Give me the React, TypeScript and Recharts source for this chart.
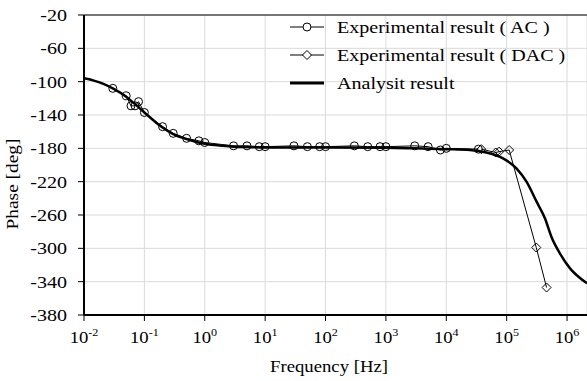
import { ComposedChart, Line, XAxis, YAxis, CartesianGrid, ReferenceLine } from "recharts";

// measured AC data
const acFreq = [0.03, 0.05, 0.06, 0.07, 0.08, 0.1, 0.2, 0.3, 0.5, 0.8, 1, 3, 5, 8, 10, 30, 50, 80, 100, 300, 500, 800, 1000, 3000, 5000, 8000, 10000, 34000];
const acPhase = [-108, -117, -129, -129, -124, -137, -154, -162, -168, -171, -173, -177, -177, -178, -178, -177, -178, -178, -178, -177, -178, -178, -178, -177, -178, -182, -180, -181];

// measured DAC data
const dacFreq = [38000, 66000, 75000, 110000, 309000, 458000];
const dacPhase = [-181, -185, -184, -182, -299, -347];

// analytic curve
const anFreq = [0.01, 0.015, 0.02, 0.03, 0.05, 0.07, 0.1, 0.15, 0.2, 0.3, 0.5, 0.7, 1, 2, 3, 5, 10, 100, 1000, 3000, 10000, 24500, 46000, 87000, 145000, 213000, 313000, 430000, 550000, 760000, 1120000, 1600000, 2140000];
const anPhase = [-96, -99, -102, -108, -118, -127, -137, -148, -155, -163, -169, -172, -174.5, -177, -178, -178.5, -179, -179, -179.3, -180, -181, -182, -185, -192, -204, -220, -244, -264, -286, -306, -324, -335, -342];

const xTicks = [0.01, 0.1, 1, 10, 100, 1000, 10000, 100000, 1000000];
const yTicks = [-380, -340, -300, -260, -220, -180, -140, -100, -60, -20];
const legendLabels = ["Experimental result ( AC )", "Experimental result ( DAC )", "Analysit result"];

const FONT = "'Liberation Serif', 'Times New Roman', serif";
const SX = 1.18;

const zip = (xs: number[], ys: number[]) => xs.map((x, i) => ({ x, y: ys[i] }));
const acData = zip(acFreq, acPhase);
const dacData = zip(dacFreq, dacPhase);
const anData = zip(anFreq, anPhase);

const YTick = ({ x, y, payload }: any) => (
  <g transform={`translate(${x},${y})`}>
    <text dy={6} textAnchor="end" transform={`scale(${SX},1)`} fontSize={17} fontFamily={FONT} fill="#000">
      {payload.value}
    </text>
  </g>
);

const XTick = ({ x, y, payload }: any) => (
  <g transform={`translate(${x},${y})`}>
    <text dy={22} textAnchor="middle" transform="scale(1.1,1)" fontSize={17} fontFamily={FONT} fill="#000">
      10<tspan dy={-7} fontSize={11}>{Math.round(Math.log10(payload.value))}</tspan>
    </text>
  </g>
);

const Diamond = (p: any) => {
  const { cx, cy } = p;
  if (cx == null || cy == null) return <g key={p.index} />;
  return (
    <path key={p.index} d={`M${cx},${cy - 4.5}L${cx + 4.5},${cy}L${cx},${cy + 4.5}L${cx - 4.5},${cy}Z`}
      fill="none" stroke="#000" strokeWidth={1} />
  );
};

export default function App() {
  const rows = [27, 55, 83];
  return (
    <div style={{ position: "absolute", left: 0, top: 0, width: 587, height: 381, background: "#fff", fontFamily: FONT }}>
      <ComposedChart width={587} height={381} margin={{ top: 15, right: 0, left: 0, bottom: 0 }}>
        <CartesianGrid stroke="#dadada" strokeWidth={1} />
        <XAxis dataKey="x" type="number" scale="log" domain={[0.01, 2140000]} ticks={xTicks} interval={0}
          allowDataOverflow height={66} tick={<XTick />} tickSize={6} tickMargin={0}
          axisLine={{ stroke: "#000", strokeWidth: 2 }} tickLine={{ stroke: "#000" }} />
        <YAxis type="number" domain={[-380, -20]} ticks={yTicks} interval={0} width={84} allowDataOverflow
          tick={<YTick />} tickSize={6} tickMargin={11}
          axisLine={{ stroke: "#000", strokeWidth: 2 }} tickLine={{ stroke: "#000" }} />
        <ReferenceLine y={-20} stroke="#000" strokeWidth={1} />
        <Line data={anData} dataKey="y" type="monotone" stroke="#000" strokeWidth={2.5} dot={false} isAnimationActive={false} />
        <Line data={acData} dataKey="y" type="linear" stroke="#000" strokeWidth={1}
          dot={{ r: 4, stroke: "#000", strokeWidth: 1, fill: "none" }} isAnimationActive={false} />
        <Line data={dacData} dataKey="y" type="linear" stroke="#000" strokeWidth={1} dot={Diamond} isAnimationActive={false} />
      </ComposedChart>

      <svg width={587} height={381} style={{ position: "absolute", left: 0, top: 0, pointerEvents: "none" }}>
        <g transform="translate(329,372)">
          <text textAnchor="middle" transform="scale(1.1,1)" fontSize={17} fontFamily={FONT} fill="#000">Frequency [Hz]</text>
        </g>
        <g transform="translate(18,184) rotate(-90)">
          <text textAnchor="middle" transform="scale(1.14,1)" fontSize={17} fontFamily={FONT} fill="#000">Phase [deg]</text>
        </g>
        {rows.map((cy, i) => (
          <g key={i}>
            {i < 2 ? (
              <>
                <line x1={290} x2={324} y1={cy} y2={cy} stroke="#000" strokeWidth={1} />
                {i === 0 ? (
                  <circle cx={307} cy={cy} r={4} fill="#fff" stroke="#000" strokeWidth={1} />
                ) : (
                  <path d={`M307,${cy - 4.5}L311.5,${cy}L307,${cy + 4.5}L302.5,${cy}Z`} fill="#fff" stroke="#000" strokeWidth={1} />
                )}
              </>
            ) : (
              <line x1={290} x2={324} y1={cy} y2={cy} stroke="#000" strokeWidth={3} />
            )}
            <g transform={`translate(337,${cy + 6})`}>
              <text transform={`scale(${SX},1)`} fontSize={17} fontFamily={FONT} fill="#000">{legendLabels[i]}</text>
            </g>
          </g>
        ))}
      </svg>
    </div>
  );
}
